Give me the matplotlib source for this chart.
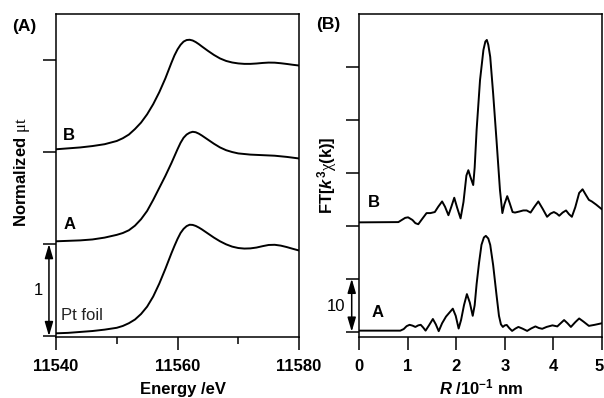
import numpy as np
import matplotlib
matplotlib.use("Agg")
import matplotlib.pyplot as plt
from matplotlib.transforms import ScaledTranslation

plt.rcParams['font.family'] = ['Liberation Sans', 'DejaVu Sans']
plt.rcParams['mathtext.fontset'] = 'custom'
plt.rcParams['mathtext.rm'] = 'Liberation Sans:bold'
plt.rcParams['mathtext.it'] = 'Liberation Sans:bold:italic'
plt.rcParams['mathtext.bf'] = 'Liberation Sans:bold'
plt.rcParams['mathtext.sf'] = 'Liberation Serif'

# ---- (A) XANES, normalized mu t (offsets added when drawn) ----
energy_pt = [11540, 11542, 11544, 11546, 11548, 11550, 11551, 11552, 11553, 11554,
             11555, 11556, 11557, 11558, 11559, 11559.5, 11560, 11560.5, 11561, 11561.5,
             11562, 11562.5, 11563, 11563.5, 11564, 11565, 11566, 11567, 11568, 11569,
             11570, 11571, 11572, 11573, 11574, 11575, 11576, 11577, 11578, 11579, 11580]
mu_pt = [0.03, 0.035, 0.045, 0.055, 0.07, 0.09, 0.11, 0.14, 0.18, 0.24,
         0.32, 0.43, 0.57, 0.73, 0.90, 0.98, 1.055, 1.12, 1.165, 1.195,
         1.21, 1.208, 1.197, 1.18, 1.16, 1.115, 1.07, 1.03, 0.997, 0.972,
         0.957, 0.951, 0.953, 0.962, 0.977, 0.99, 0.992, 0.983, 0.967, 0.948, 0.93]

energy_a = [11540, 11542, 11544, 11546, 11548, 11550, 11551, 11552, 11553, 11554,
            11555, 11556, 11557, 11558, 11559, 11559.5, 11560, 11560.5, 11561, 11561.5,
            11562, 11562.5, 11563, 11563.5, 11564, 11565, 11566, 11567, 11568, 11569,
            11570, 11572, 11574, 11576, 11578, 11580]
mu_a = [0.03, 0.035, 0.04, 0.05, 0.07, 0.10, 0.12, 0.15, 0.20, 0.27,
        0.36, 0.48, 0.61, 0.74, 0.88, 0.955, 1.03, 1.10, 1.155, 1.19,
        1.21, 1.22, 1.215, 1.20, 1.18, 1.135, 1.09, 1.05, 1.02, 1.0,
        0.985, 0.972, 0.966, 0.96, 0.947, 0.93]

energy_b = [11540, 11542, 11544, 11546, 11548, 11550, 11551, 11552, 11553, 11554,
            11555, 11556, 11557, 11558, 11559, 11559.5, 11560, 11560.5, 11561, 11561.5,
            11562, 11562.5, 11563, 11563.5, 11564, 11565, 11566, 11567, 11568, 11569,
            11570, 11571, 11572, 11573, 11574, 11575, 11576, 11577, 11578, 11579, 11580]
mu_b = [0.03, 0.04, 0.05, 0.065, 0.085, 0.12, 0.15, 0.19, 0.25, 0.32,
        0.41, 0.52, 0.65, 0.80, 0.97, 1.05, 1.115, 1.165, 1.20, 1.217,
        1.22, 1.212, 1.195, 1.173, 1.148, 1.10, 1.055, 1.017, 0.99, 0.973,
        0.963, 0.958, 0.958, 0.962, 0.968, 0.972, 0.971, 0.965, 0.957, 0.948, 0.94]

xanes_offsets = [0, 1, 2]

# ---- (B) FT of k^3 chi(k) (offsets added when drawn) ----
r_a = [0, 0.85, 0.92, 0.98, 1.04, 1.10, 1.16, 1.22, 1.27, 1.32,
       1.37, 1.44, 1.52, 1.58, 1.64, 1.71, 1.79, 1.86, 1.93, 1.99,
       2.05, 2.10, 2.16, 2.22, 2.28, 2.34, 2.38, 2.42, 2.47, 2.52,
       2.57, 2.61, 2.66, 2.70, 2.76, 2.83, 2.88, 2.92, 2.96, 3.00,
       3.04, 3.09, 3.15, 3.22, 3.28, 3.36, 3.46, 3.54, 3.63, 3.70,
       3.77, 3.86, 3.98, 4.08, 4.15, 4.22, 4.29, 4.36, 4.45, 4.53,
       4.62, 4.73, 4.85, 5.0]
ft_a = [0.2, 0.2, 0.5, 1.05, 1.3, 1.15, 0.9, 1.2, 1.3, 0.8,
        0.2, 1.2, 2.4, 1.4, 0.1, 1.6, 2.85, 3.6, 4.35, 3.0,
        0.6, 2.2, 5.0, 7.1, 5.5, 3.0, 5.0, 9.0, 13.0, 16.4,
        17.8, 18.1, 17.6, 16.4, 12.6, 6.9, 3.0, 1.4, 0.9, 1.2,
        1.27, 0.7, 0.15, 0.6, 0.9, 0.6, 0.15, 0.6, 1.0, 0.7,
        0.55, 0.9, 1.2, 1.0, 1.6, 2.2, 1.6, 0.9, 1.8, 2.5,
        1.9, 1.1, 1.3, 1.6]

r_b = [0, 0.81, 0.88, 0.95, 1.01, 1.10, 1.16, 1.22, 1.30, 1.39,
       1.47, 1.56, 1.63, 1.71, 1.77, 1.84, 1.90, 1.96, 2.02, 2.09,
       2.15, 2.21, 2.25, 2.29, 2.35, 2.38, 2.42, 2.49, 2.56, 2.60,
       2.63, 2.66, 2.70, 2.76, 2.83, 2.90, 2.95, 2.99, 3.05, 3.10,
       3.16, 3.21, 3.30, 3.38, 3.45, 3.53, 3.61, 3.69, 3.78, 3.87,
       3.94, 4.01, 4.07, 4.12, 4.19, 4.26, 4.32, 4.38, 4.45, 4.53,
       4.60, 4.67, 4.73, 4.79, 4.88, 5.0]
ft_b = [0.65, 0.7, 1.1, 1.5, 1.6, 1.1, 0.5, 0.3, 1.3, 2.4,
        2.4, 2.6, 3.6, 4.6, 3.6, 2.0, 3.6, 5.3, 3.4, 1.4,
        4.5, 9.5, 10.5, 9.3, 7.7, 11.0, 18.1, 27.5, 33.2, 34.8,
        35.1, 34.2, 31.9, 25.0, 16.1, 6.8, 2.4, 4.0, 5.6, 4.3,
        2.6, 2.5, 2.7, 2.9, 2.9, 2.5, 3.6, 4.6, 3.2, 1.7,
        2.3, 2.6, 2.3, 1.9, 2.5, 2.9, 2.2, 1.7, 3.5, 6.2,
        6.9, 5.8, 4.9, 4.6, 4.0, 3.1]

ft_offsets = [0, 20]


def style_axes(ax):
    for sp in ax.spines.values():
        sp.set_linewidth(1.1)
    ax.tick_params(axis='both', which='major', direction='out', length=9.5, width=1.1,
                   labelsize=12, pad=6)
    ax.tick_params(axis='both', which='minor', direction='out', length=5, width=1.1)
    ax.tick_params(axis='y', labelleft=False)
    for lbl in ax.get_xticklabels():
        lbl.set_fontweight('bold')


def double_arrow(ax, x, y0, y1):
    ax.annotate('', xy=(x, y0), xytext=(x, y1), xycoords=ax.get_yaxis_transform(),
                annotation_clip=False,
                arrowprops=dict(arrowstyle='<|-|>,head_length=0.85,head_width=0.25',
                                color='k', lw=1.1, shrinkA=0, shrinkB=0))


fig = plt.figure(figsize=(6.04, 3.98), dpi=100)
axA = fig.add_axes([56 / 604, 61 / 398, 243 / 604, 323 / 398])
axB = fig.add_axes([359 / 604, 61 / 398, 243 / 604, 323 / 398])

line_kw = dict(color='k', lw=1.4, solid_joinstyle='round', solid_capstyle='round')

# Panel A
for e, mu, off in zip([energy_pt, energy_a, energy_b], [mu_pt, mu_a, mu_b], xanes_offsets):
    axA.plot(e, np.array(mu) + off, **line_kw)
axA.set_xlim(11540, 11580)
axA.set_ylim(-0.01, 3.5)
axA.set_xticks([11540, 11560, 11580])
axA.set_xticks([11550, 11570], minor=True)
axA.set_yticks([0, 1, 2, 3])
style_axes(axA)

axA.text(11541.2, 2.13, 'B', fontsize=12, fontweight='bold', ha='left', va='baseline')
axA.text(11541.2, 1.16, 'A', fontsize=12, fontweight='bold', ha='left', va='baseline')
axA.text(11540.8, 0.17, 'Pt foil', fontsize=12, color='#222222', ha='left', va='baseline')
axA.text(-0.072, 0.49, '1', fontsize=12, ha='center', va='center',
         transform=axA.get_yaxis_transform())
double_arrow(axA, -0.029, 0, 1)

# Panel B
for r, ft, off in zip([r_a, r_b], [ft_a, ft_b], ft_offsets):
    axB.plot(r, np.array(ft) + off, **line_kw)
axB.set_xlim(0, 5)
axB.set_ylim(-1, 60)
axB.set_xticks([0, 1, 2, 3, 4, 5])
axB.set_yticks([0, 10, 20, 30, 40, 50])
style_axes(axB)
# last tick label sits at the figure edge: nudge it inwards a little
last = axB.get_xticklabels()[-1]
last.set_transform(last.get_transform() + ScaledTranslation(-3 / 100, 0, fig.dpi_scale_trans))

axB.text(0.19, 23.5, 'B', fontsize=12, fontweight='bold', ha='left', va='baseline')
axB.text(0.25, 2.72, 'A', fontsize=12, fontweight='bold', ha='left', va='baseline')
axB.text(-0.0955, 4.8, '10', fontsize=12, ha='center', va='center',
         transform=axB.get_yaxis_transform())
double_arrow(axB, -0.030, 0, 10)

# axis titles and panel labels
fig.text(183 / 604, 4 / 398, 'Energy /eV', fontsize=12, fontweight='bold',
         ha='center', va='baseline')
fig.text(481 / 604, 4 / 398, r'$R$ /10$^{-1}$ nm', fontsize=12, fontweight='bold',
         ha='center', va='baseline')
fig.text(22 / 604, (398 - 172) / 398, r'Normalized $\mathsf{\mu t}$', fontsize=12,
         fontweight='bold', rotation=90, ha='center', va='center')
fig.text(327 / 604, (398 - 175) / 398, r'FT[$k^{3}$$\mathsf{\chi}$(k)]', fontsize=12,
         fontweight='bold', rotation=90, ha='center', va='center')
fig.text(12.5 / 604, (398 - 31) / 398, '(A)', fontsize=12.5, fontweight='bold',
         ha='left', va='baseline')
fig.text(316 / 604, (398 - 29) / 398, '(B)', fontsize=12.5, fontweight='bold',
         ha='left', va='baseline')

fig.savefig('out.png', dpi=100)
